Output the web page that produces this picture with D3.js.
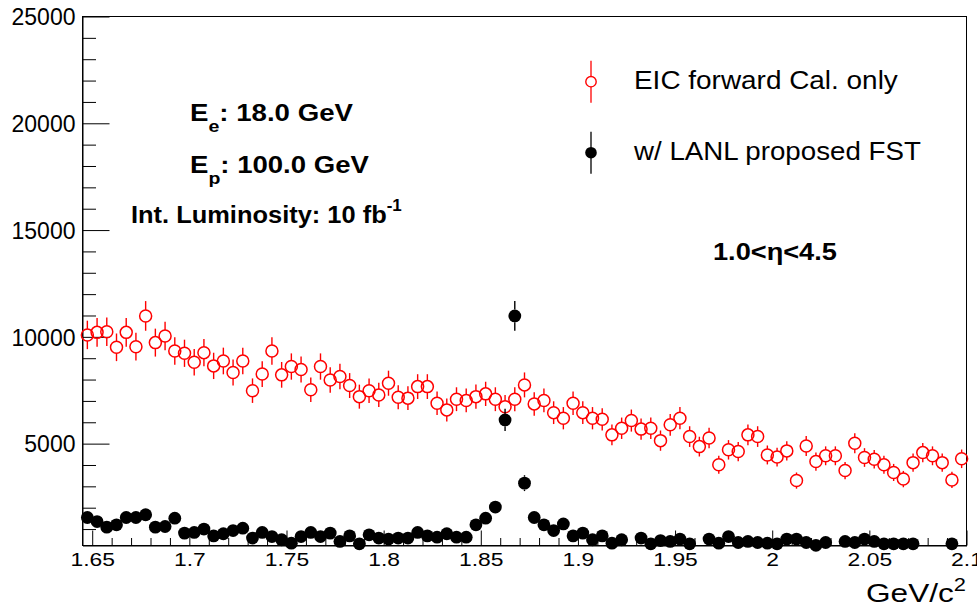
<!DOCTYPE html>
<html>
<head>
<meta charset="utf-8">
<script src="https://cdn.jsdelivr.net/npm/d3@7"></script>
<style>
body { margin: 0; background: #fff; }
svg { display: block; font-family: "Liberation Sans", Arial, Helvetica, sans-serif; }
</style>
</head>
<body>
<svg id="chart" width="977" height="609"></svg>
<script>
// histogram binning, GeV/c^2
var binLow = 1.645, binHigh = 2.1, binWidth = 0.005;

// EIC forward Cal. only (counts per bin)
var calOnly = [10090, 10210, 10240, 9510, 10210, 9540, 10980, 9730, 10040, 9340,
  9230, 8810, 9260, 8640, 8870, 8330, 8870, 7480, 8260, 9340,
  8220, 8610, 8470, 7520, 8610, 7980, 8140, 7720, 7200, 7480,
  7280, 7830, 7170, 7130, 7670, 7670, 6890, 6580, 7080, 7020,
  7200, 7330, 7080, 6730, 7080, 7750, 6860, 7020, 6450, 6190,
  6890, 6450, 6190, 6140, 5410, 5720, 6080, 5680, 5720, 5140,
  5880, 6190, 5330, 4860, 5260, 4010, 4710, 4630, 5410, 5330,
  4470, 4370, 4660, 3270, 4890, 4160, 4430, 4430, 3740, 5020,
  4350, 4270, 4010, 3650, 3340, 4110, 4580, 4430, 4110, 3300,
  4290];

// w/ LANL proposed FST (null = empty bin, not drawn)
var withFST = [1540, 1350, 1090, 1200, 1540, 1540, 1670, 1090, 1120, 1510,
  810, 840, 1000, 680, 780, 930, 1040, 580, 840, 650,
  500, 340, 650, 840, 650, 810, 420, 680, 310, 730,
  580, 530, 580, 580, 840, 680, 620, 780, 620, 620,
  1200, 1510, 2030, 6110, 10980, 3150, 1540, 1200, 930, 1240,
  680, 810, 500, 680, 340, 500, null, 580, 310, 460,
  420, 530, 310, null, 530, 340, 650, 370, 420, 370,
  340, 310, 530, 530, 370, 240, 370, null, 420, 370,
  530, 420, 310, 310, 310, 310, null, null, null, 310,
  null];

// weighted entries: error = sqrt(w * N)
var eventWeight = 44;

var yMin = 230, yMax = 25000;
var yMajor = [5000, 10000, 15000, 20000, 25000];
var xMajor = [1.65, 1.7, 1.75, 1.8, 1.85, 1.9, 1.95, 2.0, 2.05, 2.1];
var xMajorLabels = ["1.65", "1.7", "1.75", "1.8", "1.85", "1.9", "1.95", "2", "2.05", "2.1"];

var legendLabels = ["EIC forward Cal. only", "w/ LANL proposed FST"];

var L = 82.5, R = 966.5, T = 16.5, B = 545.5;
var svg = d3.select("#chart");

var x = d3.scaleLinear().domain([binLow, binHigh]).range([L, R]);
var y = d3.scaleLinear().domain([yMin, yMax]).range([B, T]);

// text helper: glyphs in the reference are wider than Liberation Sans, so stretch to measured width
function fitText(g, px, py, width, anchor){
  var w = g.node().getBBox().width;
  var s = width / w;
  var x0 = anchor == "end" ? px - width : anchor == "middle" ? px - width / 2 : px;
  g.attr("transform", "translate(" + x0 + "," + py + ") scale(" + s + ",1)");
}

// frame
svg.append("rect").attr("x", L).attr("y", T).attr("width", R - L).attr("height", B - T)
  .attr("fill", "none").attr("stroke", "#000").attr("stroke-width", 1);

// y axis: major + minor ticks drawn inside the frame
var yMinor = d3.range(1000, 25000, 1000).filter(function(v){ return v % 5000 && v >= yMin; });
svg.append("g").attr("transform", "translate(" + L + ",0)")
  .call(d3.axisLeft(y).tickValues(yMinor).tickSizeInner(-13.5).tickSizeOuter(0).tickFormat(""))
  .call(function(g){ g.select(".domain").remove(); });
var yAx = svg.append("g").attr("transform", "translate(" + L + ",0)")
  .call(d3.axisLeft(y).tickValues(yMajor).tickSizeInner(-27).tickSizeOuter(0).tickPadding(7).tickFormat(d3.format("d")));
yAx.attr("font-family", null).attr("font-size", 23);
yAx.selectAll("text").attr("fill", "#000").attr("dy", "0.36em");

// x axis
var xMinor = d3.range(165, 211).filter(function(v){ return v % 5; }).map(function(v){ return v / 100; });
svg.append("g").attr("transform", "translate(0," + B + ")")
  .call(d3.axisBottom(x).tickValues(xMinor).tickSizeInner(-7.5).tickSizeOuter(0).tickFormat(""))
  .call(function(g){ g.select(".domain").remove(); });
var xAx = svg.append("g").attr("transform", "translate(0," + B + ")")
  .call(d3.axisBottom(x).tickValues(xMajor).tickSizeInner(-15).tickSizeOuter(0).tickPadding(8)
    .tickFormat(function(d, i){ return xMajorLabels[i]; }));
xAx.attr("font-family", null).attr("font-size", 18);
xAx.selectAll("text").attr("fill", "#000").attr("transform", "scale(1.27,1)");
svg.selectAll(".tick line").attr("stroke", "#000");

// x title
var xt = svg.append("g");
var xtt = xt.append("text").attr("font-size", 26);
xtt.append("tspan").text("GeV/c");
xtt.append("tspan").attr("font-size", 18).attr("dy", -11).text("2");
fitText(xt, 966, 602, 100, "end");

// data points
function binCenter(i){ return binLow + binWidth * (i + 0.5); }

function drawSeries(vals, color, filled, r){
  var pts = vals.map(function(v, i){ return {i: i, v: v}; })
    .filter(function(d){ return d.v != null && d.v >= yMin; });
  var g = svg.append("g");
  var bars = g.selectAll("g.pt").data(pts).enter().append("g").attr("class", "pt");
  bars.each(function(d){
    var e = Math.sqrt(eventWeight * d.v);
    var cx = x(binCenter(d.i)), cy = y(d.v);
    var yt = y(d.v + e), yb = y(Math.max(d.v - e, yMin));
    var n = d3.select(this);
    if (cy - yt > r) n.append("line").attr("x1", cx).attr("x2", cx).attr("y1", yt).attr("y2", cy - r);
    if (yb - cy > r) n.append("line").attr("x1", cx).attr("x2", cx).attr("y1", cy + r).attr("y2", yb);
  });
  bars.selectAll("line").attr("stroke", color).attr("stroke-width", 1.4);
  bars.append("circle")
    .attr("cx", function(d){ return x(binCenter(d.i)); })
    .attr("cy", function(d){ return y(d.v); })
    .attr("r", r)
    .attr("fill", filled ? color : "none")
    .attr("stroke", color).attr("stroke-width", filled ? 0 : 1.5);
}
drawSeries(calOnly, "#ff0000", false, 6);
drawSeries(withFST, "#000000", true, 6.4);

// legend
var legend = [
  {label: legendLabels[0], color: "#ff0000", filled: false, cy: 81.7, w: 264},
  {label: legendLabels[1], color: "#000000", filled: true, cy: 152.7, w: 288}
];
legend.forEach(function(d){
  var g = svg.append("g");
  g.append("line").attr("x1", 591).attr("x2", 591).attr("y1", d.cy - 21).attr("y2", d.cy - 5)
    .attr("stroke", d.color).attr("stroke-width", 1.3);
  g.append("line").attr("x1", 591).attr("x2", 591).attr("y1", d.cy + 5).attr("y2", d.cy + 21)
    .attr("stroke", d.color).attr("stroke-width", 1.3);
  g.append("circle").attr("cx", 591).attr("cy", d.cy).attr("r", d.filled ? 5.8 : 5.2)
    .attr("fill", d.filled ? d.color : "none").attr("stroke", d.color).attr("stroke-width", d.filled ? 0 : 1.4);
  var t = svg.append("g");
  t.append("text").attr("font-size", 26).text(d.label);
  fitText(t, 634, d.cy + 7.5, d.w, "start");
});

// labels on the pad
function latex(parts, px, py, width){
  var g = svg.append("g");
  var t = g.append("text").attr("font-size", 24).attr("font-weight", "bold");
  parts.forEach(function(p){
    t.append("tspan").attr("font-size", p.size || 24).attr("dy", p.dy || 0).text(p.s);
  });
  fitText(g, px, py, width, "start");
}
latex([{s: "E"}, {s: "e", size: 17, dy: 11}, {s: ": 18.0 GeV", dy: -11}], 190, 121, 163);
latex([{s: "E"}, {s: "p", size: 17, dy: 11}, {s: ": 100.0 GeV", dy: -11}], 190, 172.5, 179);
latex([{s: "Int. Luminosity: 10 fb"}, {s: "-1", size: 16, dy: -12}], 131, 223, 271);
latex([{s: "1.0<\u03b7<4.5"}], 713, 260, 124);
</script>
</body>
</html>
